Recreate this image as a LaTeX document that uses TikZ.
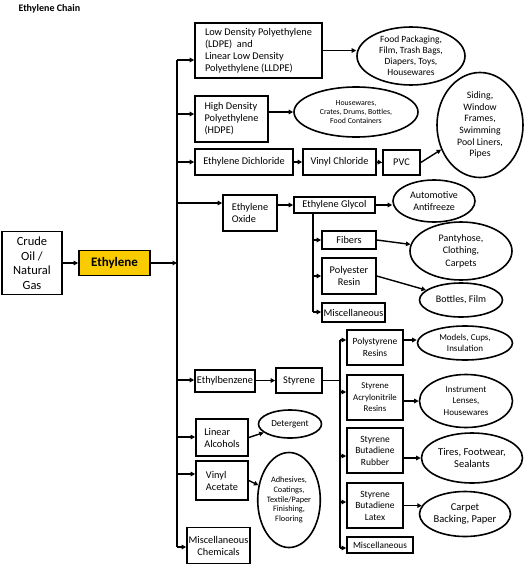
\documentclass[tikz,border=0pt]{standalone}
\usepackage{fontspec}
\setmainfont{Carlito}
\usetikzlibrary{arrows.meta,shapes.geometric}
\definecolor{ethyellow}{RGB}{250,204,0}
\tikzset{
  box/.style={draw, line width=1.6pt, rectangle, align=center, inner sep=1pt, font=\fontsize{10.3}{12}\selectfont},
  prod/.style={draw, line width=1.6pt, ellipse, align=center, inner sep=0pt, font=\fontsize{10}{12.5}\selectfont},
  arr/.style={line width=1.4pt, -{Triangle[length=4.5pt,width=4.5pt]}},
  bus/.style={line width=1.6pt}
}
\begin{document}
\begin{tikzpicture}[x=1pt, y=-1pt]
        \useasboundingbox (0,0) rectangle (524,565);
        \node[anchor=west, font=\bfseries\fontsize{10}{12}\selectfont] (title) at (15,9) {Ethylene Chain};

        % Feedstock
        \node[box, font=\fontsize{12.5}{14.5}\selectfont, minimum width=60pt, minimum height=63pt] (crude) at (32,263) {Crude\\Oil /\\Natural\\Gas};
        \node[box, fill=ethyellow, font=\bfseries\fontsize{13}{15}\selectfont, minimum width=71pt, minimum height=25pt] (eth) at (114.5,263) {Ethylene};

        % Main bus
        \coordinate (b1) at (177,60);
        \coordinate (b2) at (177,114);
        \coordinate (b3) at (177,162);
        \coordinate (b4) at (177,203);
        \coordinate (b5) at (177,380);
        \coordinate (b6) at (177,437);
        \coordinate (b7) at (177,474);
        \coordinate (b8) at (177,547);

        % First derivatives
        \node[box, align=left, minimum width=127pt, minimum height=55pt] (ldpe) at (258.5,50.5) {Low Density Polyethylene\\(LDPE)\ \ and\\Linear Low Density\\Polyethylene (LLDPE)};
        \node[box, align=left, minimum width=73pt, minimum height=46pt] (hdpe) at (231.5,119) {High Density\\Polyethylene\\(HDPE)};
        \node[box, minimum width=98pt, minimum height=26pt] (edc) at (244,162) {Ethylene Dichloride};
        \node[box, minimum width=73pt, minimum height=26pt] (vc) at (339.5,162) {Vinyl Chloride};
        \node[box, minimum width=37pt, minimum height=25pt] (pvc) at (401.5,162.5) {PVC};
        \node[box, align=left, minimum width=54pt, minimum height=36pt] (eo) at (250,213) {Ethylene\\Oxide};
        \node[box, minimum width=81pt, minimum height=16pt] (eg) at (334.5,205) {Ethylene Glycol};
        \node[box, minimum width=54pt, minimum height=18pt] (fibers) at (349,240) {Fibers};
        \node[box, minimum width=54pt, minimum height=36pt] (poly) at (349,276) {Polyester\\Resin};
        \node[box, minimum width=63pt, minimum height=19pt] (misca) at (353.5,312.5) {Miscellaneous};
        \node[box, minimum width=60pt, minimum height=22pt] (eb) at (225,381) {Ethylbenzene};
        \node[box, minimum width=46pt, minimum height=25pt] (sty) at (299,380.5) {Styrene};
        \node[box, align=left, minimum width=52pt, minimum height=37pt] (la) at (222,437.5) {Linear\\Alcohols};
        \node[box, align=left, minimum width=52pt, minimum height=39pt] (va) at (222,480.5) {Vinyl\\Acetate};
        \node[box, minimum width=63pt, minimum height=36pt] (mc) at (218.5,545.5) {Miscellaneous\\Chemicals};

        % Styrene family
        \node[box, font=\fontsize{9.5}{12}\selectfont, minimum width=56pt, minimum height=35pt] (ps) at (375,347.5) {Polystyrene\\Resins};
        \node[box, font=\fontsize{8.8}{11.5}\selectfont, minimum width=56pt, minimum height=45pt] (san) at (375,397.5) {Styrene\\Acrylonitrile\\Resins};
        \node[box, font=\fontsize{9.5}{11.5}\selectfont, minimum width=56pt, minimum height=45pt] (sbr) at (375,450.5) {Styrene\\Butadiene\\Rubber};
        \node[box, font=\fontsize{9.5}{11.5}\selectfont, minimum width=56pt, minimum height=45pt] (sbl) at (375,505.5) {Styrene\\Butadiene\\Latex};
        \node[box, font=\fontsize{9.3}{11}\selectfont, minimum width=66pt, minimum height=16pt] (miscb) at (380,545) {Miscellaneous};

        % End uses
        \node[prod, font=\fontsize{9.5}{11}\selectfont, minimum width=108pt, minimum height=58pt] (food) at (411,56) {Food Packaging,\\Film, Trash Bags,\\Diapers, Toys,\\Housewares};
        \node[prod, font=\fontsize{7.8}{9.3}\selectfont, minimum width=124pt, minimum height=50pt] (house) at (356,112) {Housewares,\\Crates, Drums, Bottles,\\Food Containers};
        \node[prod, font=\fontsize{9.8}{11.7}\selectfont, minimum width=86pt, minimum height=105pt] (siding) at (480,125) {Siding,\\Window\\Frames,\\Swimming\\Pool Liners,\\Pipes};
        \node[prod, minimum width=82pt, minimum height=42pt] (anti) at (434,201) {Automotive\\Antifreeze};
        \node[prod, minimum width=102pt, minimum height=58pt] (panty) at (461,251) {Pantyhose,\\Clothing,\\Carpets};
        \node[prod, minimum width=83pt, minimum height=34pt] (bottles) at (461,300) {Bottles, Film};
        \node[prod, font=\fontsize{9}{11.5}\selectfont, minimum width=95pt, minimum height=34pt] (models) at (465,343) {Models, Cups,\\Insulation};
        \node[prod, font=\fontsize{9}{11.5}\selectfont, minimum width=93pt, minimum height=53pt] (lenses) at (466,401) {Instrument\\Lenses,\\Housewares};
        \node[prod, font=\fontsize{10.5}{12.5}\selectfont, minimum width=101pt, minimum height=50pt] (tires) at (472,458) {Tires, Footwear,\\Sealants};
        \node[prod, font=\fontsize{10.5}{12.5}\selectfont, minimum width=91pt, minimum height=45pt] (carpet) at (465,514) {Carpet\\Backing, Paper};
        \node[prod, font=\fontsize{9.2}{11}\selectfont, minimum width=63pt, minimum height=28pt] (deterg) at (290,424) {Detergent};
        \node[prod, font=\fontsize{8.3}{9.8}\selectfont, minimum width=62pt, minimum height=95pt] (adhes) at (289,500) {Adhesives,\\Coatings,\\Textile/Paper\\Finishing,\\Flooring};

        % Feedstock to bus
        \draw[arr] (crude.east) -- (eth.west);
        \draw[arr] (eth.east) -- (eth.east -| b1);
        \draw[bus] (b1) -- (b8);

        \draw[arr] (b1) -- (b1 -| ldpe.west);
        \draw[arr] (b2) -- (b2 -| hdpe.west);
        \draw[arr] (b3) -- (b3 -| edc.west);
        \draw[arr] (b4) -- (b4 -| eo.west);
        \draw[arr] (b5) -- (b5 -| eb.west);
        \draw[arr] (b6) -- (b6 -| la.west);
        \draw[arr] (b7) -- (b7 -| va.west);
        \draw[arr] (b8) -- (b8 -| mc.west);

        % Polyethylene and vinyl chain
        \draw[arr] (ldpe.east) -- (ldpe.east -| food.west);
        \draw[arr] (hdpe.east |- house) -- (house.west);
        \draw[arr] (edc.east) -- (vc.west);
        \draw[arr] (vc.east) -- (pvc.west);
        \draw[arr] (pvc.east) -- (siding);

        % Ethylene oxide chain
        \coordinate (e1) at (313,240);
        \coordinate (e2) at (313,276);
        \coordinate (e3) at (313,312);
        \draw[arr] (eo.east |- eg) -- (eg.west);
        \draw[arr] (eg.east) -- (eg.east -| anti.west);
        \draw[bus] (eg.south -| e1) -- (e3);
        \draw[arr] (e1) -- (e1 -| fibers.west);
        \draw[arr] (e2) -- (e2 -| poly.west);
        \draw[arr] (e3) -- (e3 -| misca.west);
        \draw[arr] (fibers.east) -- (panty);
        \draw[arr] (poly.east) -- (bottles);

        % Styrene chain
        \coordinate (s1) at (340,340);
        \coordinate (s2) at (340,392);
        \coordinate (s3) at (340,456);
        \coordinate (s4) at (340,502);
        \coordinate (s5) at (340,548);
        \draw[arr] (eb.east |- sty) -- (sty.west);
        \draw[bus] (sty.east) -- (sty.east -| s1);
        \draw[bus] (s1) -- (s5);
        \draw[arr] (s1) -- (s1 -| ps.west);
        \draw[arr] (s2) -- (s2 -| san.west);
        \draw[arr] (s3) -- (s3 -| sbr.west);
        \draw[arr] (s4) -- (s4 -| sbl.west);
        \draw[arr] (s5) -- (s5 -| miscb.west);
        \draw[arr] (s1 -| ps.east) -- (s1 -| models.west);
        \draw[arr] (san.east |- lenses) -- (lenses.west);
        \draw[arr] (sbr.east |- tires) -- (tires.west);
        \draw[arr] (sbl.east |- carpet.169) -- (carpet.169);

        % Other derivatives
        \draw[arr] (la.east) -- (deterg);
        \draw[arr] (va.east) -- (adhes);
    \end{tikzpicture}
\end{document}
